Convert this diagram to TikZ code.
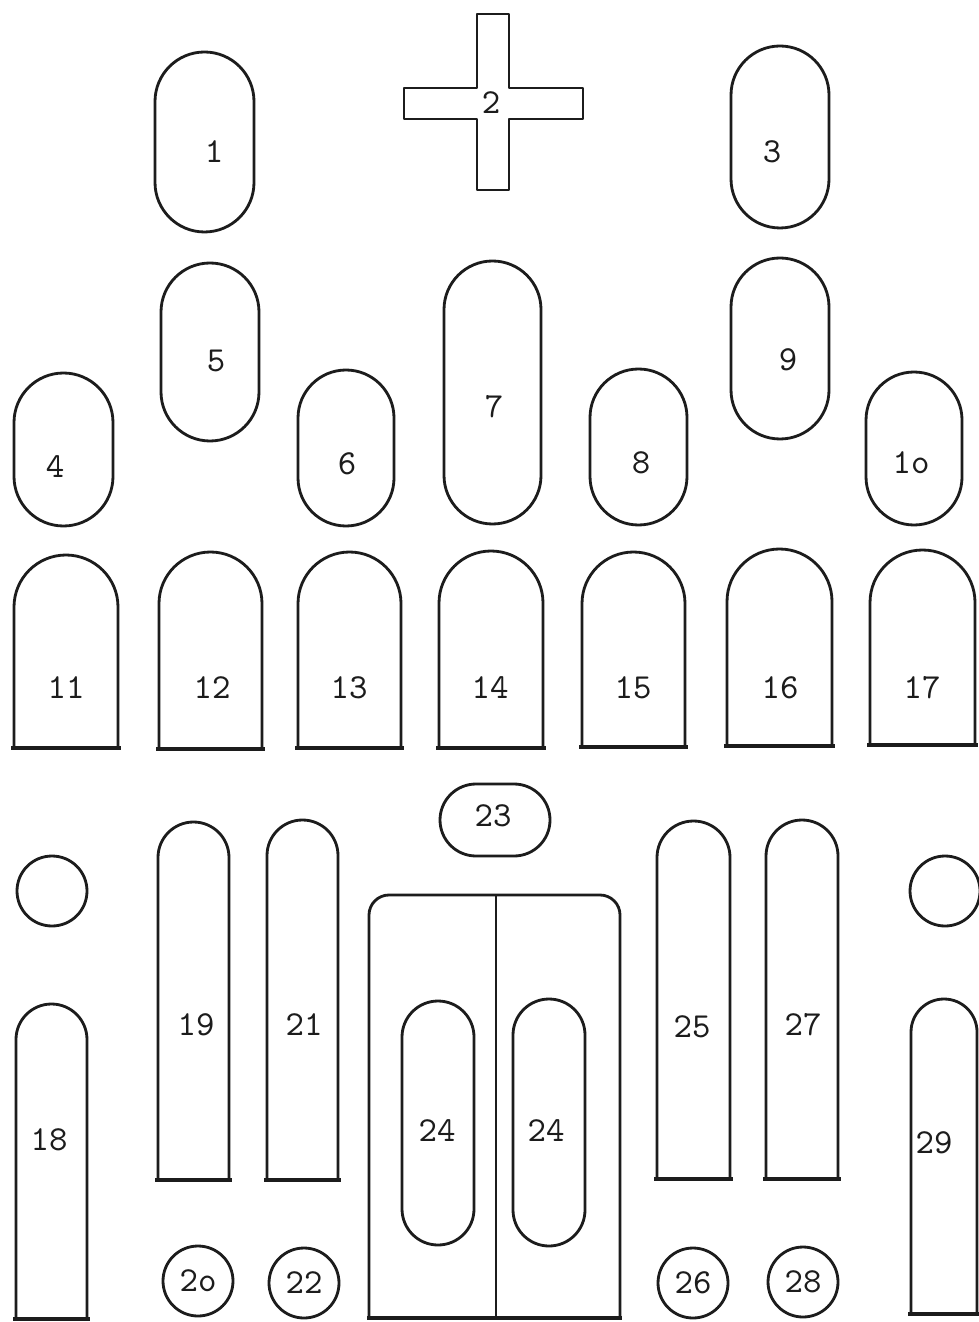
\documentclass[tikz,border=0pt]{standalone}
\usepackage{tikz}
\usetikzlibrary{
  positioning,
  calc,
}
\definecolor{ink}{HTML}{1C1C1C}
\definecolor{paper}{HTML}{FFFFFF}
\tikzset{
  plan/.style={draw=ink, line width=0.8pt, line join=round},
  sill/.style={draw=ink, line width=1.4pt},
  num/.style={font=\ttfamily\fontsize{10}{12}\selectfont, text=ink, inner sep=0pt},
}

\begin{document}
\begin{tikzpicture}[x=0.1mm,y=-0.1mm]
  \fill[paper] (0,0) rectangle (978,1322);
  \useasboundingbox (0,0) rectangle (978,1322);

  % cross
  \draw[plan] (477,14) -- (509,14) -- (509,88) -- (583,88) -- (583,119) -- (509,119)
    -- (509,190) -- (477,190) -- (477,119) -- (404,119) -- (404,88) -- (477,88) -- cycle;
  \node[num] (n2) at (491,103) {2};

  % upright pills
  \foreach \xa/\ya/\xb/\yb/\lx/\ly/\lab/\nm in {
      155/52/254/232/214/152/1/1,
      731/46/829/228/772/152/3/3,
      161/263/259/441/216/361/5/5,
      444/261/541/524/494/407/7/7,
      731/258/829/439/788/360/9/9,
      14/373/113/526/55/467/4/4,
      298/370/394/526/347/464/6/6,
      590/369/687/525/641/463/8/8,
      866/372/962/525/911/463/1o/10,
      402/1001/474/1245/437/1131/24/24a,
      513/999/585/1246/546/1131/24/24b} {
    \pgfmathsetmacro\rad{(\xb-\xa)/20}
    \draw[plan, rounded corners=\rad mm] (\xa,\ya) rectangle (\xb,\yb);
    \node[num] (n\nm) at (\lx,\ly) {\lab};
  }

  % arches with sills
  \foreach \xa/\ya/\xb/\yb/\lx/\ly/\lab in {
      14/555/118/748/66/688/11,
      159/552/262/749/212/688/12,
      298/552/401/748/349/688/13,
      439/551/543/748/490/688/14,
      582/552/685/747/633/688/15,
      727/549/832/746/780/688/16,
      870/550/975/745/922/688/17,
      158/822/229/1180/196/1025/19,
      267/820/338/1180/304/1025/21,
      657/821/730/1179/692/1027/25,
      766/820/838/1179/803/1025/27,
      16/1004/87/1319/49/1140/18,
      911/999/977/1314/934/1143/29} {
    \pgfmathsetmacro\rad{(\xb-\xa)/20}
    \draw[plan, rounded corners=\rad mm] (\xa,\yb) -- (\xa,\ya) -- (\xb,\ya) -- (\xb,\yb);
    \draw[sill] (\xa-3,\yb) -- (\xb+3,\yb);
    \node[num] (n\lab) at (\lx,\ly) {\lab};
  }

  % 23
  \draw[plan, rounded corners=3.6mm] (440,784) rectangle (550,856);
  \node[num] (n23) at (493,816) {23};

  % double box
  \draw[plan, rounded corners=2mm] (369,1318) -- (369,895) -- (620,895) -- (620,1318);
  \draw[plan] (496,895) -- (496,1318);
  \draw[sill] (367,1318) -- (622,1318);

  % plain rounds
  \draw[plan] (52,891) circle (3.5mm);
  \draw[plan] (945,891) circle (3.5mm);

  % numbered rounds
  \foreach \cx/\cy/\lab in {198/1281/2o, 304/1283/22, 693/1283/26, 803/1282/28} {
    \draw[plan] (\cx,\cy) circle (3.5mm);
    \node[num] (n\lab) at (\cx,\cy) {\lab};
  }
\end{tikzpicture}
\end{document}
